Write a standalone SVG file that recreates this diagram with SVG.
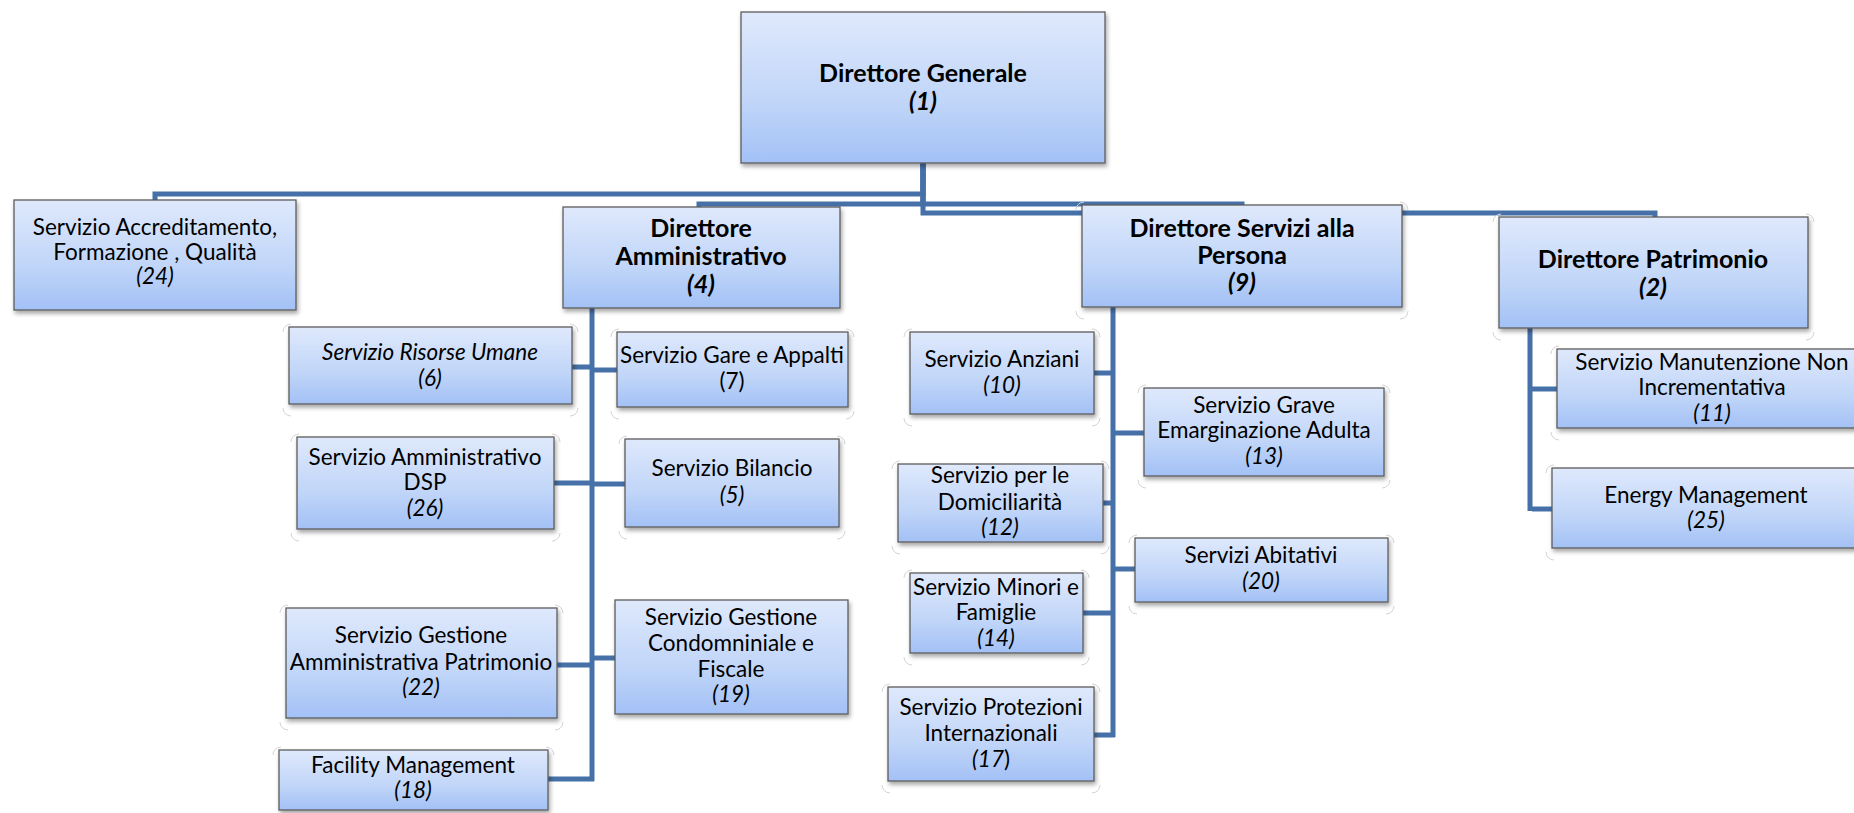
<svg xmlns="http://www.w3.org/2000/svg" width="1854" height="813" viewBox="0 0 1854 813">
<defs>
<linearGradient id="g" x1="0" y1="0" x2="0" y2="1">
<stop offset="0" stop-color="#dfe9fc"/>
<stop offset="0.6" stop-color="#c0d5f8"/>
<stop offset="1" stop-color="#a3c1f6"/>
</linearGradient>
<filter id="sh" x="-10%" y="-10%" width="125%" height="135%">
<feDropShadow dx="1.5" dy="3" stdDeviation="2" flood-color="#000" flood-opacity="0.35"/>
</filter>
</defs>
<style>
.box{fill:url(#g);stroke:#5c5c5c;stroke-width:1.3;filter:url(#sh)}
.halo{fill:none;stroke:#d4d4d4;stroke-width:1}
.t{font-family:Lato,"Liberation Sans",sans-serif;font-size:22.5px;fill:#000;text-anchor:middle}
.b{font-weight:bold;font-size:25px}
.bg{font-weight:bold;font-size:25px}
.i{font-style:italic}
.c{fill:none;stroke:#4670a8;stroke-width:5}
</style>
<rect width="1854" height="813" fill="#fff"/>

<g id="connectors">
<path class="c" d="M923,163 V194 H155 V200"/>
<path class="c" d="M923,163 V204 H699 V207"/>
<path class="c" d="M923,163 V204 H1242 V205"/>
<path class="c" d="M923,163 V213 H1655 V217"/>
<path class="c" d="M592,308 V781"/>
<path class="c" d="M592,367 H572"/>
<path class="c" d="M592,370 H617"/>
<path class="c" d="M592,483 H554"/>
<path class="c" d="M592,484 H625"/>
<path class="c" d="M592,665 H557"/>
<path class="c" d="M592,658 H615"/>
<path class="c" d="M594,779 H548"/>
<path class="c" d="M1113,307 V737"/>
<path class="c" d="M1113,373 H1094"/>
<path class="c" d="M1113,433 H1144"/>
<path class="c" d="M1113,503 H1103"/>
<path class="c" d="M1113,569 H1135"/>
<path class="c" d="M1113,613 H1083"/>
<path class="c" d="M1115,735 H1094"/>
<path class="c" d="M1530,328 V511"/>
<path class="c" d="M1530,389 H1557"/>
<path class="c" d="M1532,509 H1552"/>
</g>

<g id="n1">
<rect class="box" x="741" y="12" width="364" height="151"/>
<text class="t bg" x="923" y="82">Direttore Generale</text>
<text class="t bg i" x="923" y="110">(1)</text>
</g>

<g id="n24">
<rect class="box" x="14" y="200" width="282" height="110"/>
<text class="t" x="155" y="235">Servizio Accreditamento,</text>
<text class="t" x="155" y="260">Formazione , Qualità</text>
<text class="t i" x="155" y="284">(24)</text>
</g>

<g id="n4">
<rect class="box" x="563" y="207" width="277" height="101"/>
<text class="t b" x="701" y="237">Direttore</text>
<text class="t b" x="701" y="265">Amministrativo</text>
<text class="t b i" x="701" y="293">(4)</text>
</g>

<g id="n9">
<path class="halo" d="M1076,210 a8,8 0 0 1 8,-8 M1400,202 a8,8 0 0 1 8,8 M1408,311 a8,8 0 0 1 -8,8 M1084,319 a8,8 0 0 1 -8,-8"/>
<rect class="box" x="1082" y="205" width="320" height="102"/>
<text class="t b" x="1242" y="237">Direttore Servizi alla</text>
<text class="t b" x="1242" y="264">Persona</text>
<text class="t b i" x="1242" y="291">(9)</text>
</g>

<g id="n2">
<path class="halo" d="M1493,222 a8,8 0 0 1 8,-8 M1806,214 a8,8 0 0 1 8,8 M1814,332 a8,8 0 0 1 -8,8 M1501,340 a8,8 0 0 1 -8,-8"/>
<rect class="box" x="1499" y="217" width="309" height="111"/>
<text class="t b" x="1653" y="268">Direttore Patrimonio</text>
<text class="t b i" x="1653" y="296">(2)</text>
</g>

<g id="n6">
<path class="halo" d="M283,332 a8,8 0 0 1 8,-8 M570,324 a8,8 0 0 1 8,8 M578,408 a8,8 0 0 1 -8,8 M291,416 a8,8 0 0 1 -8,-8"/>
<rect class="box" x="289" y="327" width="283" height="77"/>
<text class="t i" x="430" y="360">Servizio Risorse Umane</text>
<text class="t i" x="430" y="386">(6)</text>
</g>

<g id="n7">
<path class="halo" d="M611,337 a8,8 0 0 1 8,-8 M846,329 a8,8 0 0 1 8,8 M854,411 a8,8 0 0 1 -8,8 M619,419 a8,8 0 0 1 -8,-8"/>
<rect class="box" x="617" y="332" width="231" height="75"/>
<text class="t" x="732" y="363">Servizio Gare e Appalti</text>
<text class="t" x="732" y="389">(7)</text>
</g>

<g id="n26">
<path class="halo" d="M291,442 a8,8 0 0 1 8,-8 M552,434 a8,8 0 0 1 8,8 M560,533 a8,8 0 0 1 -8,8 M299,541 a8,8 0 0 1 -8,-8"/>
<rect class="box" x="297" y="437" width="257" height="92"/>
<text class="t" x="425" y="465">Servizio Amministrativo</text>
<text class="t" x="425" y="490">DSP</text>
<text class="t i" x="425" y="516">(26)</text>
</g>

<g id="n5">
<path class="halo" d="M619,444 a8,8 0 0 1 8,-8 M837,436 a8,8 0 0 1 8,8 M845,531 a8,8 0 0 1 -8,8 M627,539 a8,8 0 0 1 -8,-8"/>
<rect class="box" x="625" y="439" width="214" height="88"/>
<text class="t" x="732" y="476">Servizio Bilancio</text>
<text class="t i" x="732" y="503">(5)</text>
</g>

<g id="n22">
<path class="halo" d="M280,613 a8,8 0 0 1 8,-8 M555,605 a8,8 0 0 1 8,8 M563,722 a8,8 0 0 1 -8,8 M288,730 a8,8 0 0 1 -8,-8"/>
<rect class="box" x="286" y="608" width="271" height="110"/>
<text class="t" x="421" y="643">Servizio Gestione</text>
<text class="t" x="421" y="670">Amministrativa Patrimonio</text>
<text class="t i" x="421" y="695">(22)</text>
</g>

<g id="n19">
<rect class="box" x="615" y="600" width="233" height="114"/>
<text class="t" x="731" y="625">Servizio Gestione</text>
<text class="t" x="731" y="651">Condomniniale e</text>
<text class="t" x="731" y="677">Fiscale</text>
<text class="t i" x="731" y="702">(19)</text>
</g>

<g id="n18">
<path class="halo" d="M273,755 a8,8 0 0 1 8,-8 M546,747 a8,8 0 0 1 8,8"/>
<rect class="box" x="279" y="750" width="269" height="60"/>
<text class="t" x="413" y="773">Facility Management</text>
<text class="t i" x="413" y="798">(18)</text>
</g>

<g id="n10">
<path class="halo" d="M904,337 a8,8 0 0 1 8,-8 M1092,329 a8,8 0 0 1 8,8 M1100,418 a8,8 0 0 1 -8,8 M912,426 a8,8 0 0 1 -8,-8"/>
<rect class="box" x="910" y="332" width="184" height="82"/>
<text class="t" x="1002" y="367">Servizio Anziani</text>
<text class="t i" x="1002" y="393">(10)</text>
</g>

<g id="n13">
<path class="halo" d="M1138,393 a8,8 0 0 1 8,-8 M1382,385 a8,8 0 0 1 8,8 M1390,480 a8,8 0 0 1 -8,8 M1146,488 a8,8 0 0 1 -8,-8"/>
<rect class="box" x="1144" y="388" width="240" height="88"/>
<text class="t" x="1264" y="413">Servizio Grave</text>
<text class="t" x="1264" y="438">Emarginazione Adulta</text>
<text class="t i" x="1264" y="464">(13)</text>
</g>

<g id="n12">
<path class="halo" d="M892,469 a8,8 0 0 1 8,-8 M1101,461 a8,8 0 0 1 8,8 M1109,546 a8,8 0 0 1 -8,8 M900,554 a8,8 0 0 1 -8,-8"/>
<rect class="box" x="898" y="464" width="205" height="78"/>
<text class="t" x="1000" y="483">Servizio per le</text>
<text class="t" x="1000" y="510">Domiciliarità</text>
<text class="t i" x="1000" y="535">(12)</text>
</g>

<g id="n20">
<path class="halo" d="M1129,543 a8,8 0 0 1 8,-8 M1386,535 a8,8 0 0 1 8,8 M1394,606 a8,8 0 0 1 -8,8 M1137,614 a8,8 0 0 1 -8,-8"/>
<rect class="box" x="1135" y="538" width="253" height="64"/>
<text class="t" x="1261" y="563">Servizi Abitativi</text>
<text class="t i" x="1261" y="589">(20)</text>
</g>

<g id="n14">
<path class="halo" d="M904,578 a8,8 0 0 1 8,-8 M1081,570 a8,8 0 0 1 8,8 M1089,657 a8,8 0 0 1 -8,8 M912,665 a8,8 0 0 1 -8,-8"/>
<rect class="box" x="910" y="573" width="173" height="80"/>
<text class="t" x="996" y="595">Servizio Minori e</text>
<text class="t" x="996" y="620">Famiglie</text>
<text class="t i" x="996" y="646">(14)</text>
</g>

<g id="n17">
<path class="halo" d="M882,692 a8,8 0 0 1 8,-8 M1092,684 a8,8 0 0 1 8,8 M1100,785 a8,8 0 0 1 -8,8 M890,793 a8,8 0 0 1 -8,-8"/>
<rect class="box" x="888" y="687" width="206" height="94"/>
<text class="t" x="991" y="715">Servizio Protezioni</text>
<text class="t" x="991" y="741">Internazionali</text>
<text class="t" x="991" y="767"><tspan class="i">(17</tspan>)</text>
</g>

<g id="n11">
<path class="halo" d="M1551,354 a8,8 0 0 1 8,-8 M1559,440 a8,8 0 0 1 -8,-8"/>
<rect class="box" x="1557" y="349" width="310" height="79"/>
<text class="t" x="1712" y="370">Servizio Manutenzione Non</text>
<text class="t" x="1712" y="395">Incrementativa</text>
<text class="t i" x="1712" y="421">(11)</text>
</g>

<g id="n25">
<path class="halo" d="M1546,473 a8,8 0 0 1 8,-8 M1554,560 a8,8 0 0 1 -8,-8"/>
<rect class="box" x="1552" y="468" width="308" height="80"/>
<text class="t" x="1706" y="503">Energy Management</text>
<text class="t i" x="1706" y="528">(25)</text>
</g>
</svg>
